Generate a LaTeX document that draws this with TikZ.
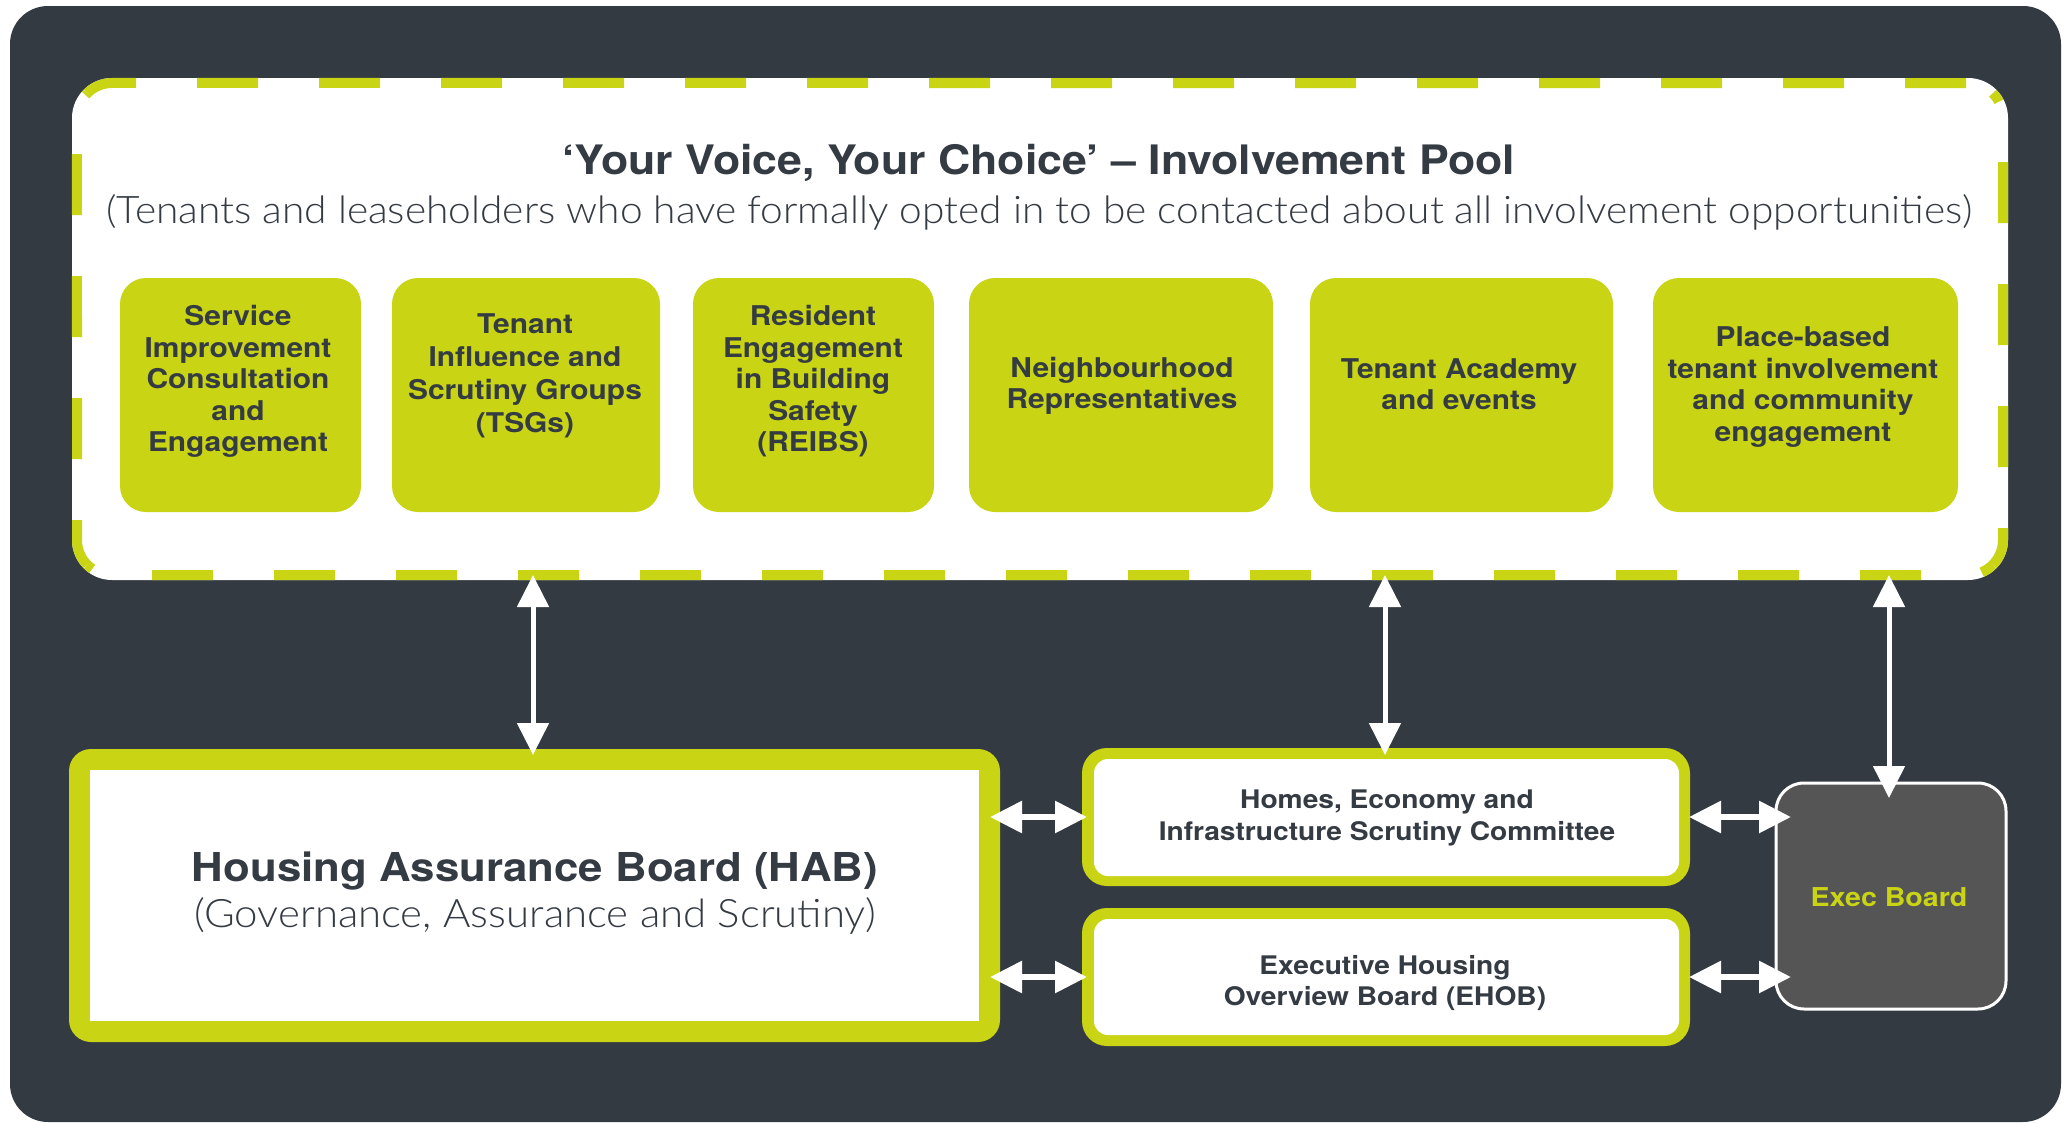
\documentclass[tikz,border=0pt]{standalone}
\usepackage{fontspec}
\setmainfont{TeX Gyre Heros}
\newfontfamily\hv[FakeStretch=1.1]{TeX Gyre Heros}
\newfontfamily\lt[FakeStretch=1.07]{Lato Light}
\usetikzlibrary{arrows.meta,fit,calc}
\definecolor{bgdark}{HTML}{343A42}
\definecolor{lime}{HTML}{C8D414}
\definecolor{ink}{HTML}{353B43}
\definecolor{execgrey}{HTML}{555555}
\tikzset{
  panel/.style={inner sep=0pt, outer sep=0pt},
  pooltile/.style={panel, fill=lime, rounded corners=13pt},
  tiletext/.style={align=center, text=ink, inner sep=0pt,
    font=\hv\bfseries\fontsize{13.6}{15.75}\selectfont},
  boardtext/.style={align=center, text=ink, inner sep=0pt,
    font=\hv\bfseries\fontsize{12.8}{15.75}\selectfont},
  poolrim/.style={draw=lime, line width=5pt,
    dash pattern=on 30.5pt off 30.5pt},
  varrow/.style={draw=white, line width=2.5pt,
    {Triangle[width=15.5pt,length=16pt]}-{Triangle[width=15.5pt,length=16pt]}},
  harrow/.style={draw=white, line width=3pt,
    {Triangle[width=15.5pt,length=16pt]}-{Triangle[width=15.5pt,length=16pt]}},
}
\begin{document}
\begin{tikzpicture}[x=0.5pt,y=0.5pt]
\useasboundingbox (0,0) rectangle (2069,-1124);
\fill[white] (0,0) rectangle (2069,-1124);

% dark frame
\node[panel, fit={(10,-6)(2061,-1122)}, fill=bgdark, rounded corners=19pt] (frame) {};

% involvement pool
\node[panel, fit={(72,-78)(2008,-580)}, fill=white, rounded corners=20pt] (pool) {};
% dashed rim, one run per side
\draw[poolrim, dash phase=4.755pt] (87.25,-93.25) arc[start angle=135,end angle=90,radius=35]
  -- (1968,-83) arc[start angle=90,end angle=45,radius=35];
\draw[poolrim, dash phase=25.255pt] (1992.75,-93.25) arc[start angle=45,end angle=0,radius=35]
  -- (2003,-540) arc[start angle=0,end angle=-45,radius=35];
\draw[poolrim, dash phase=27.255pt] (87.25,-564.75) arc[start angle=225,end angle=270,radius=35]
  -- (1968,-575) arc[start angle=270,end angle=315,radius=35];
\draw[poolrim, dash phase=29.255pt] (87.25,-93.25) arc[start angle=135,end angle=180,radius=35]
  -- (77,-540) arc[start angle=180,end angle=225,radius=35];

\node[anchor=base, text=ink, inner sep=0pt, font=\hv\bfseries\fontsize{20.3}{24}\selectfont]
  (pooltitle) at (1039,-174) {‘Your Voice, Your Choice’ – Involvement Pool};
\node[anchor=base, text=ink, inner sep=0pt, font=\lt\fontsize{19}{23}\selectfont]
  (poolsub) at (1039,-223) {(Tenants and leaseholders who have formally opted in to be contacted about all involvement opportunities)};

% involvement routes
\node[pooltile, fit={(120,-278)(361,-512)}] (b1) {};
\node[pooltile, fit={(392,-278)(660,-512)}] (b2) {};
\node[pooltile, fit={(693,-278)(934,-512)}] (b3) {};
\node[pooltile, fit={(969,-278)(1273,-512)}] (b4) {};
\node[pooltile, fit={(1310,-278)(1613,-512)}] (b5) {};
\node[pooltile, fit={(1653,-278)(1958,-512)}] (b6) {};

\node[tiletext] (t1) at (238,-381.5) {Service\\Improvement\\Consultation\\and\\Engagement};
\node[tiletext, font=\hv\bfseries\fontsize{13.6}{16.6}\selectfont] (t2) at (525,-376) {Tenant\\Influence and\\Scrutiny Groups\\(TSGs)};
\node[tiletext] (t3) at (813,-381.5) {Resident\\Engagement\\in Building\\Safety\\(REIBS)};
\node[tiletext] (t4) at (1122,-386) {Neighbourhood\\Representatives};
\node[tiletext] (t5) at (1459,-384) {Tenant Academy\\and events};
\node[tiletext] (t6) at (1803,-387) {Place-based\\tenant involvement\\and community\\engagement};

% Housing Assurance Board
\node[panel, fit={(69,-749)(1000,-1042)}, fill=lime, rounded corners=11pt] (hab) {};
\node[panel, fit={(90,-770)(979,-1021)}, fill=white] (habin) {};
\node[anchor=base, text=ink, inner sep=0pt, font=\hv\bfseries\fontsize{19.9}{23}\selectfont]
  (habtitle) at (535,-881) {Housing Assurance Board (HAB)};
\node[anchor=base, text=ink, inner sep=0pt, font=\lt\fontsize{19.6}{23}\selectfont]
  (habsub) at (535,-927) {(Governance, Assurance and Scrutiny)};

% committees
\node[panel, fit={(1082,-748)(1690,-886)}, fill=lime, rounded corners=12.5pt] (hesc) {};
\node[panel, fit={(1094,-759)(1679,-876)}, fill=white, rounded corners=7pt] (hescin) {};
\node[boardtext] (hesctext) at (1387,-818) {Homes, Economy and\\Infrastructure Scrutiny Committee};

\node[panel, fit={(1082,-908)(1690,-1046)}, fill=lime, rounded corners=12.5pt] (ehob) {};
\node[panel, fit={(1094,-919)(1679,-1035)}, fill=white, rounded corners=7pt] (ehobin) {};
\node[boardtext] (ehobtext) at (1385,-983) {Executive Housing\\Overview Board (EHOB)};

% executive board
\node[panel, fit={(1776,-783)(2006,-1009)}, fill=execgrey, draw=white, line width=1.5pt,
  rounded corners=14pt] (exec) {};
\node[anchor=base, text=lime, inner sep=0pt, font=\hv\bfseries\fontsize{13}{16}\selectfont]
  (exectext) at (1889,-906) {Exec Board};

% two-way links
\coordinate (v1) at (533,0);
\coordinate (v2) at (1385,0);
\coordinate (v3) at (1889,0);
\draw[varrow] ($(v1 |- pool.south)+(0,5)$) -- ($(v1 |- hab.north)+(0,-6)$);
\draw[varrow] ($(v2 |- pool.south)+(0,5)$) -- ($(v2 |- hesc.north)+(0,-7)$);
\draw[varrow] ($(v3 |- pool.south)+(0,5)$) -- ($(v3 |- exec.north)+(0,-15)$);

\draw[harrow] ($(hab.east |- hesc.center)+(-10,0)$) -- ($(hesc.west)+(5,0)$);
\draw[harrow] ($(hab.east |- ehob.center)+(-10,0)$) -- ($(ehob.west)+(5,0)$);
\draw[harrow] ($(hesc.east)+(-1,0)$) -- ($(exec.west |- hesc.center)+(15,0)$);
\draw[harrow] ($(ehob.east)+(-1,0)$) -- ($(exec.west |- ehob.center)+(15,0)$);
\end{tikzpicture}
\end{document}
